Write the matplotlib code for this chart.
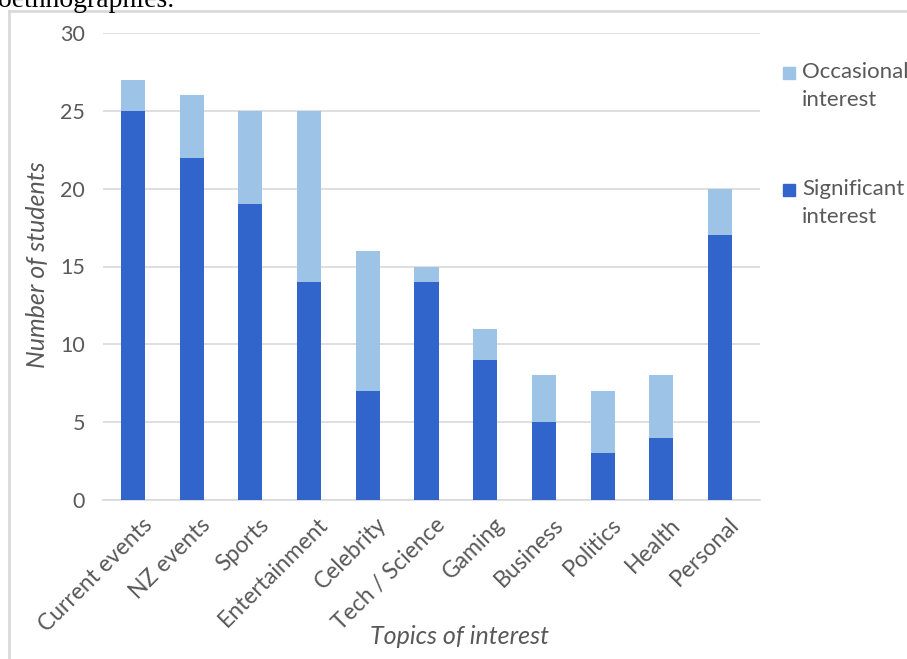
import matplotlib
matplotlib.use("Agg")
import matplotlib.pyplot as plt
from matplotlib.patches import Rectangle
from matplotlib.lines import Line2D
from matplotlib.transforms import ScaledTranslation

topics = ["Current events", "NZ events", "Sports", "Entertainment", "Celebrity",
          "Tech / Science", "Gaming", "Business", "Politics", "Health", "Personal"]
significant = [25, 22, 19, 14, 7, 14, 9, 5, 3, 4, 17]
occasional = [2, 4, 6, 11, 9, 1, 2, 3, 4, 4, 3]

DARK = "#3165CC"
LIGHT = "#9DC3E6"
GRAY = "#595959"

plt.rcParams["font.family"] = ["Lato", "DejaVu Sans"]

W, H = 907, 659
fig = plt.figure(figsize=(W / 100, H / 100), dpi=100)

def fx(px):
    return px / W

def fy(py):
    return 1 - py / H

# frame of the chart object (runs off at right and bottom)
fig.add_artist(Line2D([fx(9), fx(9)], [fy(11), -0.1], color="#D9D9D9", lw=2,
                      transform=fig.transFigure))
fig.add_artist(Line2D([fx(9), 1.1], [fy(11), fy(11)], color="#D9D9D9", lw=2,
                      transform=fig.transFigure))

# line of document text above the chart
fig.text(-0.002, fy(7), "oethnographies.", family="Liberation Serif", fontsize=20,
         ha="left", va="baseline", color="black")

ax = fig.add_axes([fx(103), fy(500), fx(760) - fx(103), fy(33) - fy(500)])
x = list(range(len(topics)))
ax.bar(x, significant, width=0.41, color=DARK, zorder=3)
ax.bar(x, occasional, bottom=significant, width=0.41, color=LIGHT, zorder=3)

ax.set_xlim(-0.51, 10.68)
ax.set_ylim(0, 30)
ax.set_yticks(range(0, 31, 5))
ax.yaxis.grid(True, color="#D9D9D9", lw=1.2, zorder=0)
for s in ["top", "right", "left"]:
    ax.spines[s].set_visible(False)
ax.spines["bottom"].set_color("#D9D9D9")
ax.spines["bottom"].set_linewidth(1.2)
ax.tick_params(length=0, colors=GRAY, labelsize=15.5)
ax.tick_params(axis="y", pad=13)
ax.set_xticks(x)
ax.set_xticklabels(topics, rotation=45, ha="right", rotation_mode="anchor")
ax.tick_params(axis="x", pad=10, labelsize=16.5)
# nudge the slanted labels a little to the right of the bars
shift = ScaledTranslation(6 / 72, 0, fig.dpi_scale_trans)
for lab in ax.get_xticklabels():
    lab.set_transform(lab.get_transform() + shift)

fig.text(fx(460), fy(637), "Topics of interest", style="italic", fontsize=18,
         color=GRAY, ha="center", va="center")
fig.text(fx(38), fy(265), "Number of students", style="italic", fontsize=18,
         color=GRAY, ha="center", va="center", rotation=90)

# legend
for top, label, col in [(63, "Occasional\ninterest", LIGHT),
                        (180, "Significant\ninterest", DARK)]:
    fig.add_artist(Rectangle((fx(783), fy(top + 16)), fx(12), fy(0) - fy(12),
                             color=col, transform=fig.transFigure))
    fig.text(fx(802), fy(top - 1), label, fontsize=16, color=GRAY,
             ha="left", va="top", linespacing=1.5)

fig.savefig("out.png", dpi=100)
